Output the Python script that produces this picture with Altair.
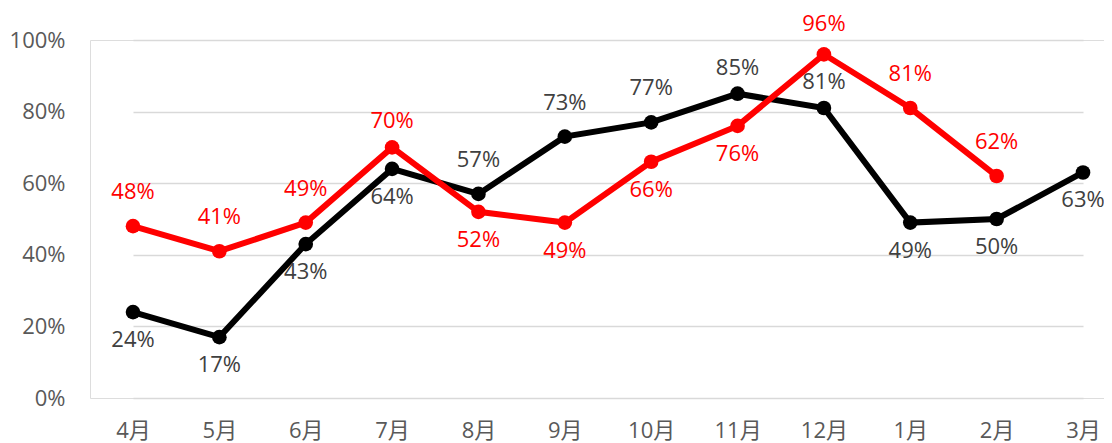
import altair as alt
import pandas as pd

months = ["4月", "5月", "6月", "7月", "8月", "9月", "10月", "11月", "12月", "1月", "2月", "3月"]
black_values = [0.24, 0.17, 0.43, 0.64, 0.57, 0.73, 0.77, 0.85, 0.81, 0.49, 0.50, 0.63]
red_values = [0.48, 0.41, 0.49, 0.70, 0.52, 0.49, 0.66, 0.76, 0.96, 0.81, 0.62, None]
black_label_side = ["below", "below", "below", "below", "above", "above", "above", "above-close", "above-close", "below", "below", "below"]
red_label_side = ["above", "above", "above", "above-close", "below", "below", "below", "below", "above-mid", "above", "above", None]
series_names = ["黒", "赤"]
series_colors = ["#000000", "#ff0000"]
y_ticks = [0, 0.2, 0.4, 0.6, 0.8, 1.0]

rows = []
for s, vals, sides in [(series_names[0], black_values, black_label_side), (series_names[1], red_values, red_label_side)]:
    for i, (m, v, sd) in enumerate(zip(months, vals, sides)):
        if v is None:
            continue
        rows.append({"month": m, "value": v, "series": s, "side": sd, "order": series_names.index(s)})
df = pd.DataFrame(rows)

FONT = "Open Sans, Noto Sans CJK SC, sans-serif"

x = alt.X("month:N", sort=months, title=None,
          scale=alt.Scale(type="point", range=[43, 993], padding=0),
          axis=alt.Axis(labelAngle=0, labelFontSize=22, labelColor="#595959", labelFont=FONT,
                        ticks=False, domain=False, grid=False, labelPadding=22))
y = alt.Y("value:Q", title=None,
          scale=alt.Scale(domain=[0, 1], nice=False, zero=True),
          axis=alt.Axis(values=y_ticks, format=".0%", labelFontSize=22, labelColor="#595959",
                        labelFont=FONT, ticks=False, domain=False, gridColor="#d9d9d9",
                        gridWidth=1.5, labelPadding=25))
color = alt.Color("series:N", scale=alt.Scale(domain=series_names, range=series_colors), legend=None)

base = alt.Chart(df).encode(x=x, y=y)

lines = base.mark_line(strokeWidth=6).encode(color=color, detail="series:N")
points = base.mark_circle(size=215, opacity=1).encode(color=color, order=alt.Order("order:Q"))

text_color = alt.condition(alt.datum.series == series_names[1], alt.value("#ff0000"), alt.value("#404040"))


def labels(side, dy):
    return base.transform_filter(alt.datum.side == side).mark_text(
        fontSize=22, font=FONT, dy=dy, baseline="middle", align="center"
    ).encode(text=alt.Text("value:Q", format=".0%"), color=text_color)


chart = alt.layer(
    lines, points,
    labels("above", -34), labels("above-mid", -30), labels("above-close", -26), labels("below", 28),
).properties(
    width=1014, height=358,
    autosize=alt.AutoSizeParams(type="none"),
    padding={"left": 82, "top": 32, "right": 0, "bottom": 46},
).configure_view(stroke=None).configure(background="white")

chart.save("out.html", embed_options={"renderer": "svg", "actions": False})
